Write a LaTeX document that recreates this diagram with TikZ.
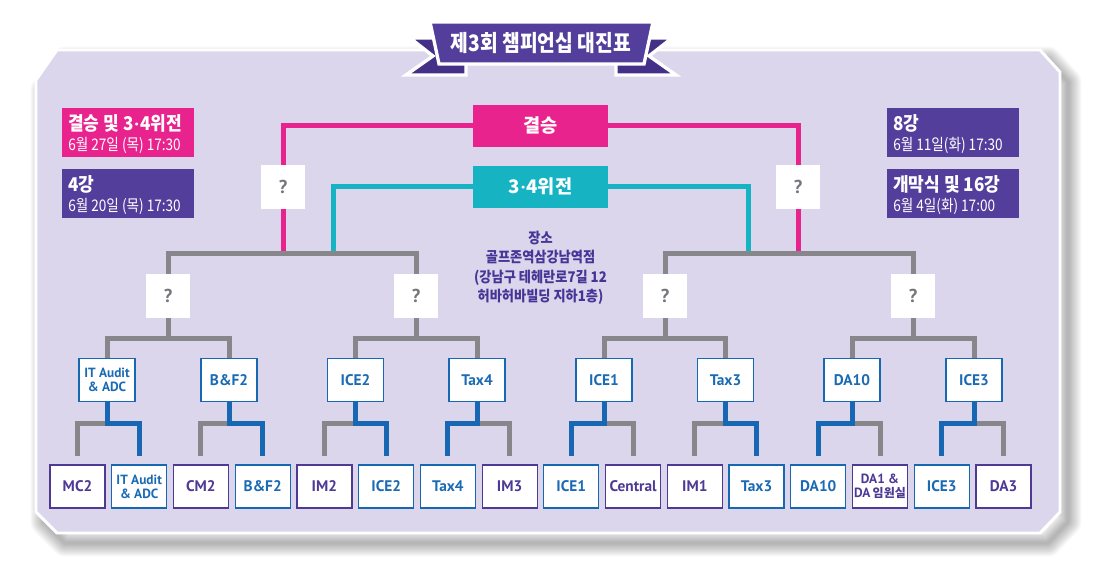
\documentclass[tikz,border=0pt]{standalone}
\usepackage{fontspec}
\usetikzlibrary{calc}
\newfontfamily\kr{Noto Sans CJK KR}
\newfontfamily\krc{Noto Sans CJK KR}[FakeStretch=0.9]
\newfontfamily\krn{Noto Sans CJK KR}[FakeStretch=0.85]
\newfontfamily\krt{Noto Sans CJK KR}[FakeStretch=0.85]
\newfontfamily\lat{PT Sans}
\newcommand{\mdot}{{\lat\bfseries\kern0.05em·\kern0.05em}}
\definecolor{lav}{RGB}{220,214,236}
\definecolor{pinkc}{RGB}{232,35,142}
\definecolor{tealc}{RGB}{22,180,195}
\definecolor{purp}{RGB}{84,62,156}
\definecolor{purpdark}{RGB}{68,48,134}
\definecolor{grayl}{RGB}{134,134,139}
\definecolor{bluel}{RGB}{23,103,178}
\definecolor{boxblue}{RGB}{26,106,180}
\definecolor{boxpurp}{RGB}{78,58,148}
\definecolor{qgray}{RGB}{118,118,124}
\definecolor{venuec}{RGB}{72,52,150}
\pgfdeclarelayer{back}
\pgfdeclarelayer{lines}
\pgfsetlayers{back,lines,main}
\begin{document}
\begin{tikzpicture}[x=0.75pt,y=-0.75pt,line join=miter,
  grayline/.style={draw=grayl,line width=3.75pt},
  pinkline/.style={draw=pinkc,line width=3.75pt},
  tealline/.style={draw=tealc,line width=3.75pt},
  blueline/.style={draw=bluel,line width=3.75pt},
  qbox/.style={fill=white,minimum width=33pt,minimum height=32.5pt,inner sep=0pt,text=qgray,font=\lat\bfseries\fontsize{14}{16}\selectfont},
  midbox/.style={fill=white,draw=bluel,line width=0.9pt,minimum width=42pt,minimum height=32.5pt,inner sep=0pt,align=center,text=boxblue,font=\lat\bfseries\fontsize{11.5}{12}\selectfont},
  winbox/.style={fill=white,draw=bluel,line width=0.9pt,minimum width=41.25pt,minimum height=32.25pt,inner sep=0pt,align=center,text=boxblue,font=\lat\bfseries\fontsize{11.5}{12}\selectfont},
  losebox/.style={winbox,draw=boxpurp,text=boxpurp},
  twoline/.style={font=\lat\bfseries\fontsize{10}{10.5}\selectfont},
  infobox/.style={minimum width=99pt,minimum height=36.75pt,inner sep=0pt},
  infoA/.style={anchor=base west,inner sep=0pt,text=white,font=\krc\bfseries\fontsize{14.2}{15}\selectfont},
  infoB/.style={anchor=base west,inner sep=0pt,text=white,font=\krn\fontsize{12}{12}\selectfont},
  bigbox/.style={minimum width=101.25pt,minimum height=31.5pt,inner sep=0pt,text=white,font=\kr\bfseries\fontsize{14}{16}\selectfont}
]
\useasboundingbox (0,0) rectangle (1105,580);
\begin{pgfonlayer}{back}
\fill[white] (0,0) rectangle (1105,580);
\foreach \w in {2,4,...,20}{
  \draw[black,opacity=0.032,line width=\w pt,line join=round,shift={(8,10)}]
    (36,80) -- (57,50) -- (1040,50) -- (1060,72) -- (1060,512) -- (1040,533) -- (57,533) -- (36,512) -- cycle;
}
\filldraw[fill=lav,draw=white,line width=2.2pt]
  (36,80) -- (57,50) -- (1040,50) -- (1060,72) -- (1060,512) -- (1040,533) -- (57,533) -- (36,512) -- cycle;
% banner
\filldraw[fill=purpdark,draw=white,line width=2.5pt]
  (466,38) -- (410,38) -- (433,56) -- (406,75) -- (466,75) -- cycle;
\filldraw[fill=purpdark,draw=white,line width=2.5pt]
  (616,38) -- (672,38) -- (649,56) -- (676,75) -- (616,75) -- cycle;
\filldraw[fill=purp,draw=white,line width=2.5pt]
  (430,22) -- (653,22) -- (644,64) -- (439,64) -- cycle;
\end{pgfonlayer}

\node[text=white,inner sep=0pt,font=\krt\bfseries\fontsize{17}{18}\selectfont] (title) at (541,43) {제3회 챔피언십 대진표};

% info boxes
\node[infobox,fill=pinkc] (info1) at (128,132.5) {};
\node[infoA] (info1a) at (68,131) {결승 및 3\mdot 4위전};
\node[infoB] (info1b) at (68,151) {6월 27일 (목) 17:30};
\node[infobox,fill=purp] (info2) at (128,193.5) {};
\node[infoA] (info2a) at (68,192) {4강};
\node[infoB] (info2b) at (68,212) {6월 20일 (목) 17:30};
\node[infobox,fill=purp] (info3) at (953,132.5) {};
\node[infoA] (info3a) at (893,131) {8강};
\node[infoB] (info3b) at (893,151) {6월 11일(화) 17:30};
\node[infobox,fill=purp] (info4) at (953,193.5) {};
\node[infoA] (info4a) at (893,192) {개막식 및 16강};
\node[infoB] (info4b) at (893,212) {6월 4일(화) 17:00};

% final and 3rd place
\node[bigbox,fill=pinkc] (final) at (540.5,126) {결승};
\node[bigbox,fill=tealc] (third) at (540.5,187) {3\mdot 4위전};

% venue
\node[align=center,text=venuec,inner sep=0pt,font=\krc\bfseries\fontsize{11}{14.6}\selectfont] (venue) at (540.5,268) {장소\\골프존역삼강남역점\\(강남구 테헤란로7길 12\\허바허바빌딩 지하1층)};

% question boxes
\node[qbox,minimum height=33pt] (qL) at (283,187) {?};
\node[qbox,minimum height=33pt] (qR) at (798,187) {?};
\node[qbox] (qa) at (168,296) {?};
\node[qbox] (qb) at (416,296) {?};
\node[qbox] (qc) at (665,296) {?};
\node[qbox] (qd) at (913,296) {?};

% quarterfinal winners
\node[midbox,twoline] (m1) at (107,380) {IT Audit\\\& ADC};
\node[midbox] (m2) at (229,380) {B\&F2};
\node[midbox] (m3) at (355.5,380) {ICE2};
\node[midbox] (m4) at (477,380) {Tax4};
\node[midbox] (m5) at (604,380) {ICE1};
\node[midbox] (m6) at (725.5,380) {Tax3};
\node[midbox] (m7) at (852,380) {DA10};
\node[midbox] (m8) at (974,380) {ICE3};

% round of 16
\node[losebox] (b1) at (77.5,486.5) {MC2};
\node[winbox,twoline] (b2) at (139.2,486.5) {IT Audit\\\& ADC};
\node[losebox] (b3) at (200.9,486.5) {CM2};
\node[winbox] (b4) at (262.7,486.5) {B\&F2};
\node[losebox] (b5) at (324.4,486.5) {IM2};
\node[winbox] (b6) at (386.2,486.5) {ICE2};
\node[winbox] (b7) at (447.9,486.5) {Tax4};
\node[losebox] (b8) at (509.6,486.5) {IM3};
\node[winbox] (b9) at (571.3,486.5) {ICE1};
\node[losebox] (b10) at (633.1,486.5) {Central};
\node[losebox] (b11) at (694.8,486.5) {IM1};
\node[winbox] (b12) at (756.5,486.5) {Tax3};
\node[winbox] (b13) at (818.3,486.5) {DA10};
\node[losebox,twoline] (b14) at (880,486.5) {DA1 \&\\DA\,{\kr\bfseries\fontsize{9}{10.5}\selectfont 임원실}};
\node[winbox] (b15) at (941.7,486.5) {ICE3};
\node[losebox] (b16) at (1003.5,486.5) {DA3};

\coordinate (ga) at (qa |- 0,254);
\coordinate (gb) at (qb |- 0,254);
\coordinate (gc) at (qc |- 0,254);
\coordinate (gd) at (qd |- 0,254);
\coordinate (tL) at (333,254);
\coordinate (tR) at (748,254);

\begin{pgfonlayer}{lines}
% final / third lines
\draw[pinkline] (final.west) -| (qL.center) -- (qL |- ga);
\draw[pinkline] (final.east) -| (qR.center) -- (qR |- gc);
\draw[tealline] (third.west) -| (tL);
\draw[tealline] (third.east) -| (tR);
% semifinal brackets
\draw[grayline] (qa.north) -- (ga) -- (gb) -- (qb.north);
\draw[grayline] (qc.north) -- (gc) -- (gd) -- (qd.north);
% quarterfinal brackets
\foreach \q/\l/\r in {qa/m1/m2,qb/m3/m4,qc/m5/m6,qd/m7/m8}{
  \coordinate (h\q) at ($(\q.south)+(0,21)$);
  \draw[grayline] (\q.south) -- (h\q);
  \draw[grayline] (\l.north) |- (h\q) -| (\r.north);
}
% round of 16 brackets: parent / winner / loser
\foreach \p/\w/\o in {m1/b2/b1,m2/b4/b3,m3/b6/b5,m4/b7/b8,m5/b9/b10,m6/b12/b11,m7/b13/b14,m8/b15/b16}{
  \coordinate (h\p) at ($(\p.south)+(0,21)$);
  \draw[grayline] (h\p) -| ($(\o.north)+(0,-8)$);
  \draw[blueline] (\p.south) -- (h\p) -| ($(\w.north)+(0,-8)$);
}
\end{pgfonlayer}
\end{tikzpicture}
\end{document}
